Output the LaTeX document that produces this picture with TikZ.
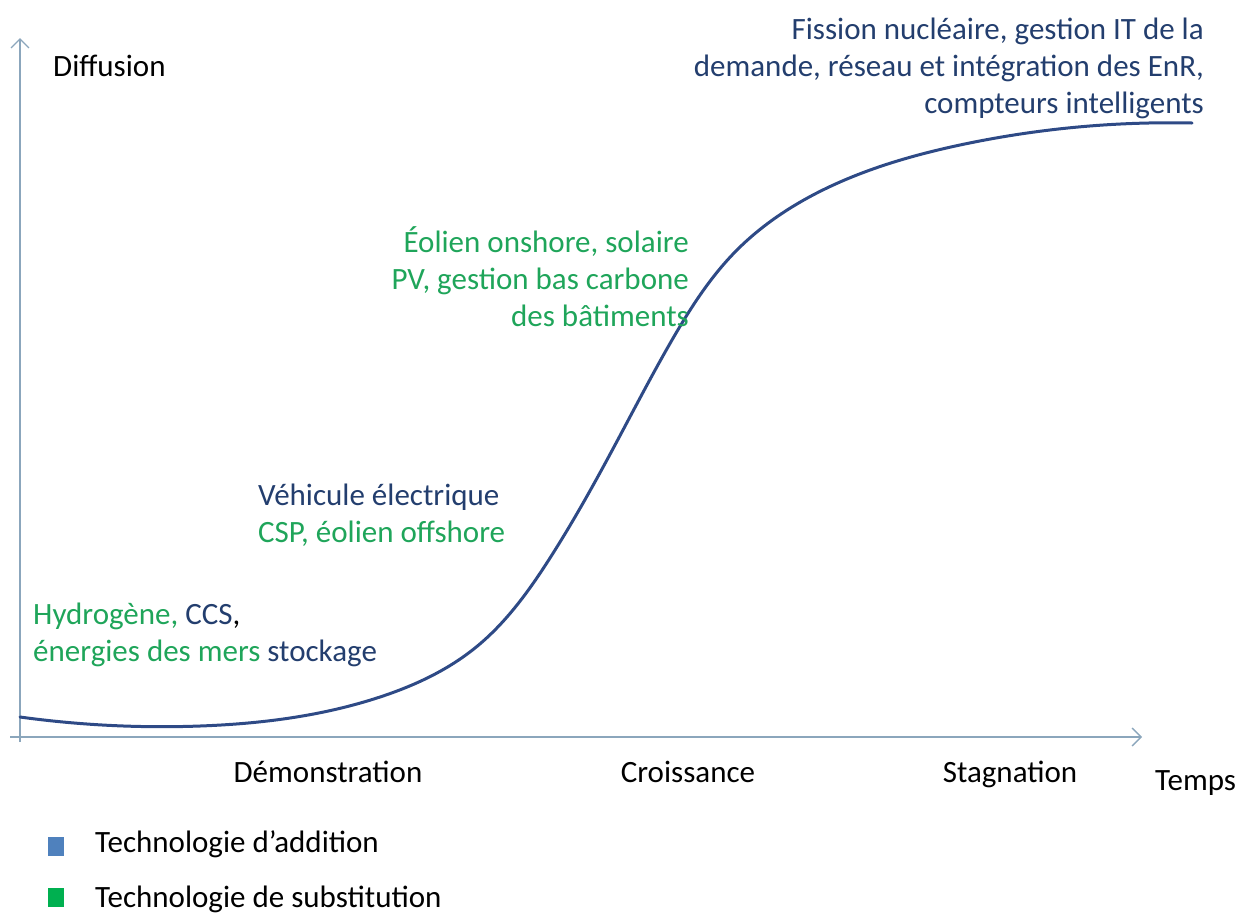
\documentclass[tikz,border=0pt]{standalone}
\usepackage{fontspec}
\setmainfont{Carlito}
\usetikzlibrary{arrows.meta,hobby}
\definecolor{txtblue}{HTML}{233E6E}
\definecolor{txtgreen}{HTML}{1FA55A}
\definecolor{axiscol}{HTML}{8BA6BC}
\definecolor{curvecol}{HTML}{2E4A86}
\definecolor{legblue}{HTML}{4F81BD}
\definecolor{leggreen}{HTML}{00B050}
\tikzset{
  lbl/.style={inner sep=0pt, font=\fontsize{31pt}{37pt}\selectfont},
  axisline/.style={draw=axiscol, line width=1.5pt, -{Straight Barb[length=9pt,width=18pt,line width=1.3pt]}},
  scurve/.style={draw=curvecol, line width=3pt, line cap=round},
  legsq/.style={inner sep=0pt, minimum width=16pt, minimum height=19pt}
}
\begin{document}
\begin{tikzpicture}[x=1pt,y=-1pt]
\useasboundingbox (0,0) rectangle (1239,914);
% axes
\coordinate (ybot) at (20,742);
\coordinate (ytop) at (20,38);
\coordinate (xl) at (10,737);
\coordinate (xr) at (1142,737);
\draw[axisline] (ybot) -- (ytop);
\draw[axisline] (xl) -- (xr);
% curve
\draw[scurve, use Hobby shortcut] (20,717) .. (200,726) .. (380,697) .. (475,648)
 .. (550,558) .. (615,445) .. (672,340) .. (735,252) .. (840,182) .. (960,145) .. (1192,123);
% labels
\node[lbl, anchor=base west] (diff) at (53,76) {Diffusion};
\node[lbl, anchor=north east, align=right, text=txtblue] (top) at (1204,18)
  {Fission nucléaire, gestion IT de la\\demande, réseau et intégration des EnR,\\compteurs intelligents};
\node[lbl, anchor=north east, align=right, text=txtgreen] (eol) at (689,226)
  {Éolien onshore, solaire\\PV, gestion bas carbone\\des bâtiments};
\node[lbl, anchor=north west, align=left] (veh) at (258,484)
  {\textcolor{txtblue}{Véhicule électrique}\\\textcolor{txtgreen}{CSP, éolien offshore}};
\node[lbl, anchor=north west, align=left] (hyd) at (33,603)
  {\textcolor{txtgreen}{Hydrogène,} \textcolor{txtblue}{CCS},\\\textcolor{txtgreen}{énergies des mers} \textcolor{txtblue}{stockage}};
\node[lbl, anchor=base] (demo) at (328,782) {Démonstration};
\node[lbl, anchor=base] (crois) at (688,782) {Croissance};
\node[lbl, anchor=base] (stag) at (1010,782) {Stagnation};
\node[lbl, anchor=base west] (temps) at (1155,790) {Temps};
% legend
\node[legsq, fill=legblue] (sqb) at (56,846) {};
\node[legsq, fill=leggreen] (sqg) at (56,897) {};
\node[lbl, anchor=base west] (legb) at (95,852) {Technologie d’addition};
\node[lbl, anchor=base west] (legg) at (95,907) {Technologie de substitution};
\end{tikzpicture}
\end{document}
